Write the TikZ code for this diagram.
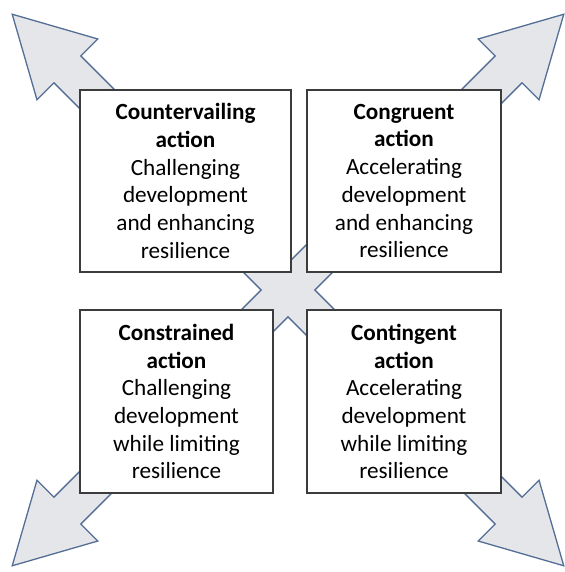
\documentclass[tikz,border=0pt]{standalone}
\usepackage{fontspec}
\setmainfont{Carlito}
\definecolor{arrowfill}{RGB}{229,230,233}
\definecolor{arrowline}{RGB}{84,110,150}
\definecolor{boxline}{RGB}{60,60,60}
\begin{document}
\begin{tikzpicture}[x=1pt,y=-1pt,
  quad/.style={fill=arrowfill,draw=arrowline,line width=1.3pt,line join=miter},
  box/.style={draw=boxline,fill=white,line width=1.3pt,rectangle,inner sep=0pt,
    align=center,font=\fontsize{23.2}{27.7}\selectfont,text=black}]
\useasboundingbox (0,0) rectangle (564,572);
\def\h{19}\def\H{43}\def\B{312}\def\T{390}
\begin{scope}[shift={(288,290)},rotate=45]
\draw[quad] (\h,\h) -- (\B,\h) -- (\B,\H) -- (\T,0) -- (\B,-\H) -- (\B,-\h) --
  (\h,-\h) -- (\h,-\B) -- (\H,-\B) -- (0,-\T) -- (-\H,-\B) -- (-\h,-\B) --
  (-\h,-\h) -- (-\B,-\h) -- (-\B,-\H) -- (-\T,0) -- (-\B,\H) -- (-\B,\h) --
  (-\h,\h) -- (-\h,\B) -- (-\H,\B) -- (0,\T) -- (\H,\B) -- (\h,\B) -- cycle;
\end{scope}
\node[box,minimum width=211pt,minimum height=182pt] (tl) at (185.5,181)
  {\textbf{Countervailing}\\\textbf{action}\\Challenging\\development\\and enhancing\\resilience};
\node[box,minimum width=194pt,minimum height=182pt] (tr) at (404,181)
  {\textbf{Congruent}\\\textbf{action}\\Accelerating\\development\\and enhancing\\resilience};
\node[box,minimum width=193pt,minimum height=183pt] (bl) at (176.5,401.5)
  {\textbf{Constrained}\\\textbf{action}\\Challenging\\development\\while limiting\\resilience};
\node[box,minimum width=194pt,minimum height=183pt] (br) at (404,401.5)
  {\textbf{Contingent}\\\textbf{action}\\Accelerating\\development\\while limiting\\resilience};
\end{tikzpicture}
\end{document}
